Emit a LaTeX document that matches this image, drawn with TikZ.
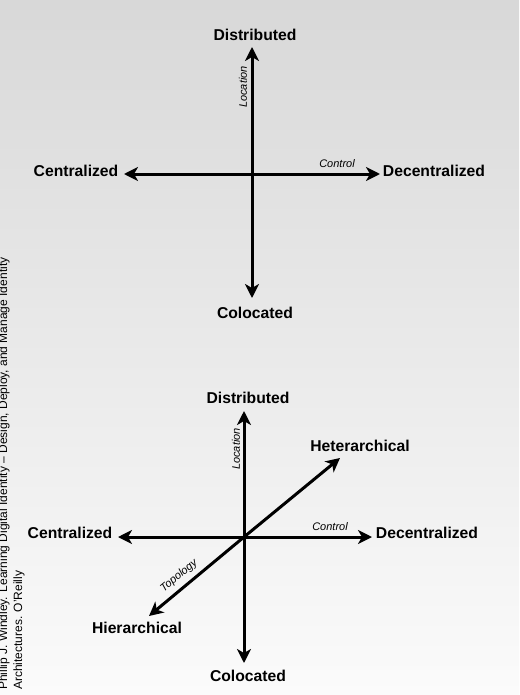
\documentclass[tikz,border=0pt]{standalone}
\usepackage{fontspec}
\setmainfont{Liberation Sans}
\usetikzlibrary{arrows.meta}
\begin{document}
\begin{tikzpicture}[x=1pt,y=-1pt,
  axis/.style={line width=3pt,{Stealth[length=14pt,width=14pt,inset=4pt]}-{Stealth[length=14pt,width=14pt,inset=4pt]}},
  ray/.style={line width=3pt,-{Stealth[length=14pt,width=14pt,inset=4pt]}},
  lbl/.style={font=\bfseries\fontsize{15.7}{18}\selectfont,inner sep=0pt},
  tag/.style={font=\itshape\fontsize{11}{13}\selectfont,inner sep=0pt},
  credit/.style={font=\fontsize{12}{14}\selectfont,inner sep=0pt,rotate=90,anchor=base west}]
\useasboundingbox (0,0) rectangle (519,695);
\shade[top color={rgb,255:red,216;green,216;blue,216},bottom color={rgb,255:red,251;green,251;blue,251}] (0,0) rectangle (519,695);
\begin{scope}
\clip (0,0) rectangle (519,695);
\node[credit] (cr1) at (7,690) {Phillip J. Windley. Learning Digital Identity -- Design, Deploy, and Manage Identity};
\node[credit] (cr2) at (22,690) {Architectures. O'Reilly};
\end{scope}
% top diagram
\coordinate (n1) at (252,47);
\coordinate (s1) at (252,298);
\coordinate (w1) at (124,174);
\coordinate (e1) at (380,174);
\draw[axis] (n1) -- (s1);
\draw[axis] (w1) -- (e1);
\node[lbl] (dist1) at (255,35) {Distributed};
\node[lbl] (colo1) at (255,313) {Colocated};
\node[lbl] (cent1) at (76,171) {Centralized};
\node[lbl] (dece1) at (434,171) {Decentralized};
\node[tag] (ctrl1) at (337,164) {Control};
\node[tag,rotate=90] (loc1) at (243,87) {Location};
% bottom diagram
\coordinate (c2) at (244,537);
\coordinate (n2) at (244,411);
\coordinate (s2) at (244,663);
\coordinate (w2) at (118,537);
\coordinate (e2) at (372,537);
\coordinate (ne2) at (340,458);
\coordinate (sw2) at (149,616);
\draw[axis] (n2) -- (s2);
\draw[axis] (w2) -- (e2);
\draw[ray] (c2) -- (ne2);
\draw[ray] (c2) -- (sw2);
\node[lbl] (dist2) at (248,398) {Distributed};
\node[lbl] (colo2) at (248,676) {Colocated};
\node[lbl] (cent2) at (70,533) {Centralized};
\node[lbl] (dece2) at (427,533) {Decentralized};
\node[lbl] (hete2) at (360,446) {Heterarchical};
\node[lbl] (hier2) at (137,628) {Hierarchical};
\node[tag] (ctrl2) at (330,527) {Control};
\node[tag,rotate=90] (loc2) at (236,449) {Location};
\node[tag,rotate=39.7] (topo2) at (179,576) {Topology};
\end{tikzpicture}
\end{document}
